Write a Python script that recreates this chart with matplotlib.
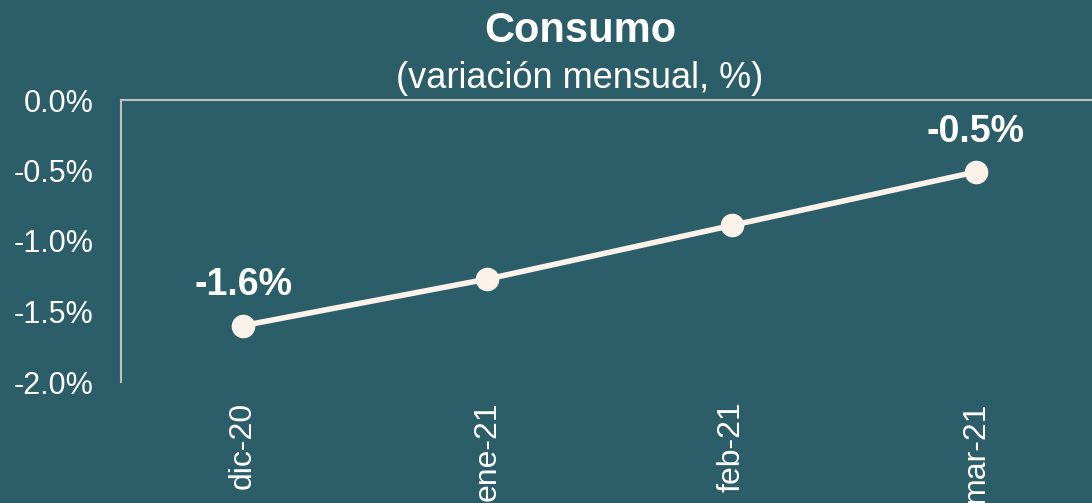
import matplotlib
matplotlib.use("Agg")
import matplotlib.pyplot as plt
from matplotlib.ticker import FuncFormatter

categories = ["dic-20", "ene-21", "feb-21", "mar-21"]
values = [-1.60, -1.27, -0.89, -0.51]
label_idx = [0, 3]
label_texts = ["-1.6%", "-0.5%"]
yticks = [0.0, -0.5, -1.0, -1.5, -2.0]

BG = "#2B5E69"
LINE = "#FBF3EA"
plt.rcParams['font.family'] = ['Liberation Sans', 'DejaVu Sans']

fig = plt.figure(figsize=(10.92, 5.03), dpi=100, facecolor=BG)
ax = fig.add_axes([121/1092, 1-382/503, (1098-121)/1092, (382-100)/503])
ax.set_facecolor(BG)
x = list(range(len(categories)))
ax.plot(x, values, color=LINE, lw=4, marker='o', markersize=16, zorder=3, clip_on=False)
ax.set_xlim(-0.5, 3.5)
ax.set_ylim(-2.0, 0.0)
ax.set_yticks(yticks)
ax.yaxis.set_major_formatter(FuncFormatter(lambda v, p: f"{v:.1f}%"))
ax.set_xticks(x)
ax.set_xticklabels(categories, rotation=90)
ax.tick_params(axis='y', length=0, labelsize=22, colors='white', pad=20)
ax.tick_params(axis='x', length=0, labelsize=23, colors='white', pad=14)
for s in ['right', 'bottom']:
    ax.spines[s].set_visible(False)
ax.spines['left'].set_color('#BFBFBF')
ax.spines['top'].set_color('#BFBFBF')
ax.spines['left'].set_linewidth(1.5)
ax.spines['top'].set_linewidth(1.5)

for i, t in zip(label_idx, label_texts):
    ax.annotate(t, (x[i], values[i]), xytext=(0, 16), textcoords='offset points',
                ha='center', va='bottom', color='white', fontsize=27, fontweight='bold')

fig.text(580/1092, 1-31/503, "Consumo", ha='center', va='center', color='white',
         fontsize=30, fontweight='bold')
fig.text(580/1092, 1-79/503, "(variación mensual, %)", ha='center', va='center',
         color='white', fontsize=26)

fig.savefig("out.png", dpi=100, facecolor=BG)
